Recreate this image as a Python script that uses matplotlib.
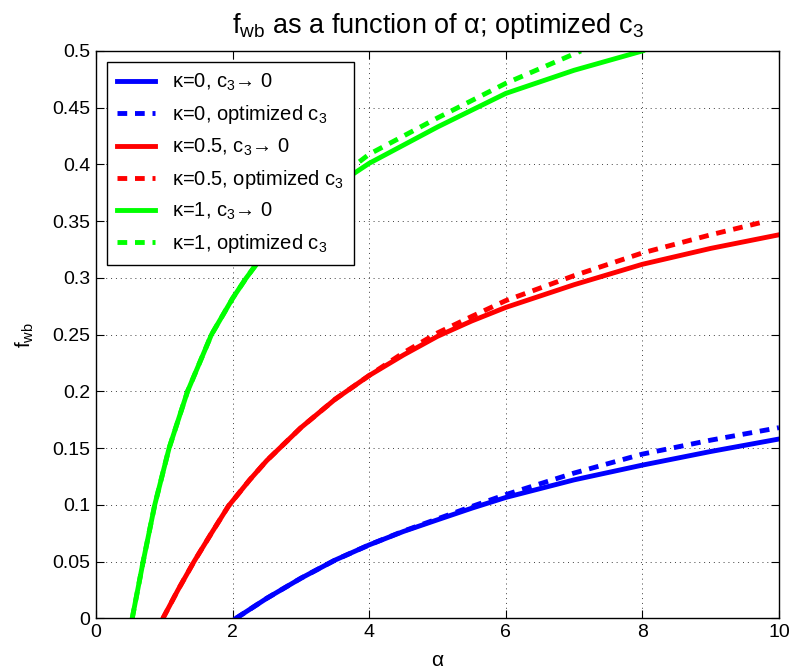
import numpy as np
import matplotlib
matplotlib.use('Agg')
import matplotlib.pyplot as plt

plt.rcParams['font.family'] = ['Liberation Sans', 'DejaVu Sans']
plt.rcParams['mathtext.fontset'] = 'custom'
plt.rcParams['mathtext.rm'] = 'Liberation Sans'
plt.rcParams['mathtext.it'] = 'Liberation Sans:italic'

# kappa = 0
x_k0 = [2.05, 2.5, 3.0, 3.5, 4.0, 4.5, 5.0, 5.5, 6.0, 7.0, 8.0, 9.0, 10.0]
y_k0 = [0.0, 0.0176, 0.0353, 0.0513, 0.0647, 0.0765, 0.0868, 0.097, 0.1065, 0.122, 0.135, 0.147, 0.158]
x_k0_opt = [2.05, 2.5, 3.0, 3.5, 4.0, 4.5, 5.0, 5.5, 6.0, 7.0, 8.0, 9.0, 10.0]
y_k0_opt = [0.0, 0.0176, 0.0353, 0.0513, 0.0647, 0.0768, 0.0876, 0.0985, 0.109, 0.128, 0.1447, 0.157, 0.168]

# kappa = 0.5
x_k05 = [0.98, 1.2, 1.435, 1.7, 1.94, 2.25, 2.5, 3.0, 3.5, 4.0, 4.5, 5.0, 5.5, 6.0, 7.0, 8.0, 9.0, 10.0]
y_k05 = [0.0, 0.025, 0.05, 0.076, 0.099, 0.122, 0.139, 0.168, 0.193, 0.214, 0.232, 0.2485, 0.262, 0.274, 0.294, 0.312, 0.326, 0.338]
x_k05_opt = [0.98, 1.2, 1.435, 1.7, 1.94, 2.25, 2.5, 3.0, 3.5, 4.0, 4.5, 5.0, 5.5, 6.0, 7.0, 8.0, 9.0, 9.75]
y_k05_opt = [0.0, 0.025, 0.05, 0.076, 0.099, 0.122, 0.139, 0.168, 0.193, 0.214, 0.234, 0.2515, 0.266, 0.28, 0.302, 0.322, 0.338, 0.349]

# kappa = 1
x_k1 = [0.53, 0.69, 0.86, 1.07, 1.34, 1.69, 2.0, 2.2, 2.5, 3.0, 3.5, 4.0, 5.0, 6.0, 7.0, 8.0]
y_k1 = [0.0, 0.05, 0.1, 0.15, 0.2, 0.25, 0.282, 0.3, 0.324, 0.357, 0.381, 0.401, 0.433, 0.4626, 0.483, 0.5]
x_k1_opt = [0.53, 0.69, 0.86, 1.07, 1.34, 1.69, 2.0, 2.2, 2.5, 3.0, 3.5, 4.0, 5.0, 6.0, 7.1]
y_k1_opt = [0.0, 0.05, 0.1, 0.15, 0.2, 0.25, 0.282, 0.3, 0.325, 0.359, 0.386, 0.409, 0.441, 0.4715, 0.5]

labels = [r'κ=0, c$_3$→ 0', r'κ=0, optimized c$_3$',
          r'κ=0.5, c$_3$→ 0', r'κ=0.5, optimized c$_3$',
          r'κ=1, c$_3$→ 0', r'κ=1, optimized c$_3$']

fig = plt.figure(figsize=(7.91, 6.69), dpi=100)
ax = fig.add_axes([0.1214, 0.0758, 0.8634, 0.848])

lw = 3.5
dash = (2.0, 1.6)
ax.plot(x_k0, y_k0, color='#0000ff', lw=lw, label=labels[0])
ax.plot(x_k0_opt, y_k0_opt, color='#0000ff', lw=lw, dashes=dash, dash_capstyle='butt', label=labels[1])
ax.plot(x_k05, y_k05, color='#ff0000', lw=lw, label=labels[2])
ax.plot(x_k05_opt, y_k05_opt, color='#ff0000', lw=lw, dashes=dash, dash_capstyle='butt', label=labels[3])
ax.plot(x_k1, y_k1, color='#00ff00', lw=lw, label=labels[4])
ax.plot(x_k1_opt, y_k1_opt, color='#00ff00', lw=lw, dashes=dash, dash_capstyle='butt', label=labels[5])

ax.set_xlim(0, 10)
ax.set_ylim(0, 0.5)
ax.set_xticks([0, 2, 4, 6, 8, 10])
ax.set_yticks(np.arange(0, 0.501, 0.05))
ax.set_yticklabels(['0', '0.05', '0.1', '0.15', '0.2', '0.25', '0.3', '0.35', '0.4', '0.45', '0.5'])
ax.tick_params(direction='in', top=True, right=True, labelsize=14, length=6, width=0.8, pad=4)
ax.grid(True, color='0.25', linestyle=(0, (1, 4)), lw=0.7)
for s in ax.spines.values():
    s.set_linewidth(1.0)

ax.set_title(r'f$_{\rm wb}$ as a function of α; optimized c$_3$', fontsize=19.5, pad=13)
ax.set_xlabel('α', fontsize=15, labelpad=7)
ax.set_ylabel(r'f$_{\rm wb}$', fontsize=15, labelpad=12)

leg = ax.legend(loc='upper left', fontsize=14.5, frameon=True, fancybox=False,
                edgecolor='black', framealpha=1, handlelength=1.9, borderaxespad=0.55,
                labelspacing=0.5, handletextpad=0.8, borderpad=0.5)
leg.get_frame().set_linewidth(1.0)

fig.savefig('out.png', dpi=100)
